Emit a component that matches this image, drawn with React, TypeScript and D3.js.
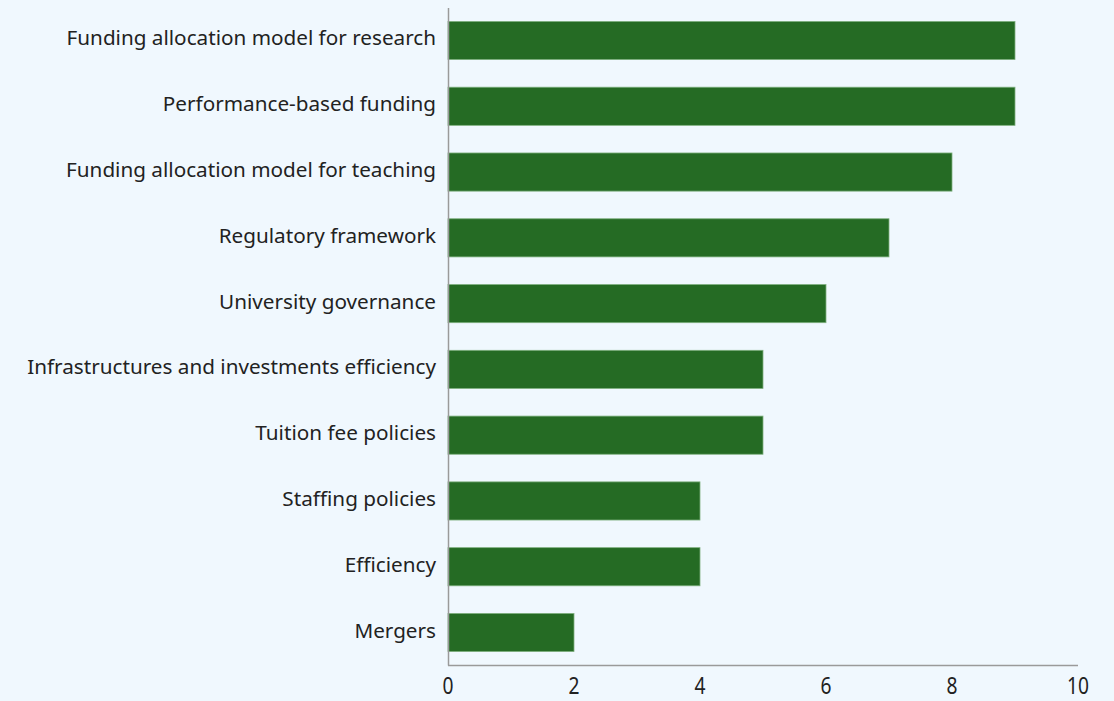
import React from "react";
import * as d3 from "d3";

const categories = [
  "Funding allocation model for research",
  "Performance-based funding",
  "Funding allocation model for teaching",
  "Regulatory framework",
  "University governance",
  "Infrastructures and investments efficiency",
  "Tuition fee policies",
  "Staffing policies",
  "Efficiency",
  "Mergers",
];
const values = [9, 9, 8, 7, 6, 5, 5, 4, 4, 2];
const xTicks = [0, 2, 4, 6, 8, 10];

const W = 1114;
const H = 701;
const BG = "#f0f8fe";
const BAR = "#256b24";
const AXIS = "#9a9a9a";
const FONT = "'Noto Sans', 'Open Sans', sans-serif";

export default function App() {
  const x = d3.scaleLinear().domain([0, 10]).range([448, 1078]);
  const y = d3
    .scaleBand<string>()
    .domain(categories)
    .range([7.6, 665.4])
    .paddingInner(0.42)
    .paddingOuter(0.21);
  const bw = y.bandwidth();
  return (
    <svg
      width={W}
      height={H}
      style={{ position: "fixed", left: 0, top: 0, background: BG, display: "block" }}
    >
      <rect x={0} y={0} width={W} height={H} fill={BG} />
      {categories.map((c, i) => (
        <g key={c}>
          <rect
            x={x(0)}
            y={y(c)!}
            width={x(values[i]) - x(0)}
            height={bw}
            fill={BAR}
            stroke="#7fb07f"
            strokeWidth={0.8}
          />
          <text
            x={436}
            y={y(c)! + bw / 2 + 5}
            textAnchor="end"
            fontFamily={FONT}
            fontSize={20.7}
            fill="#222"
          >
            {c}
          </text>
        </g>
      ))}
      <line x1={448.5} x2={448.5} y1={8} y2={665.5} stroke={AXIS} strokeWidth={1.5} />
      <line x1={448} x2={1078} y1={665.5} y2={665.5} stroke={AXIS} strokeWidth={1.5} />
      {xTicks.map((t) => (
        <text
          key={t}
          x={x(t)}
          y={694}
          textAnchor="middle"
          fontFamily={FONT}
          fontSize={24}
          fill="#222"
          transform={`translate(${x(t)},0) scale(0.8,1) translate(${-x(t)},0)`}
        >
          {t}
        </text>
      ))}
    </svg>
  );
}
